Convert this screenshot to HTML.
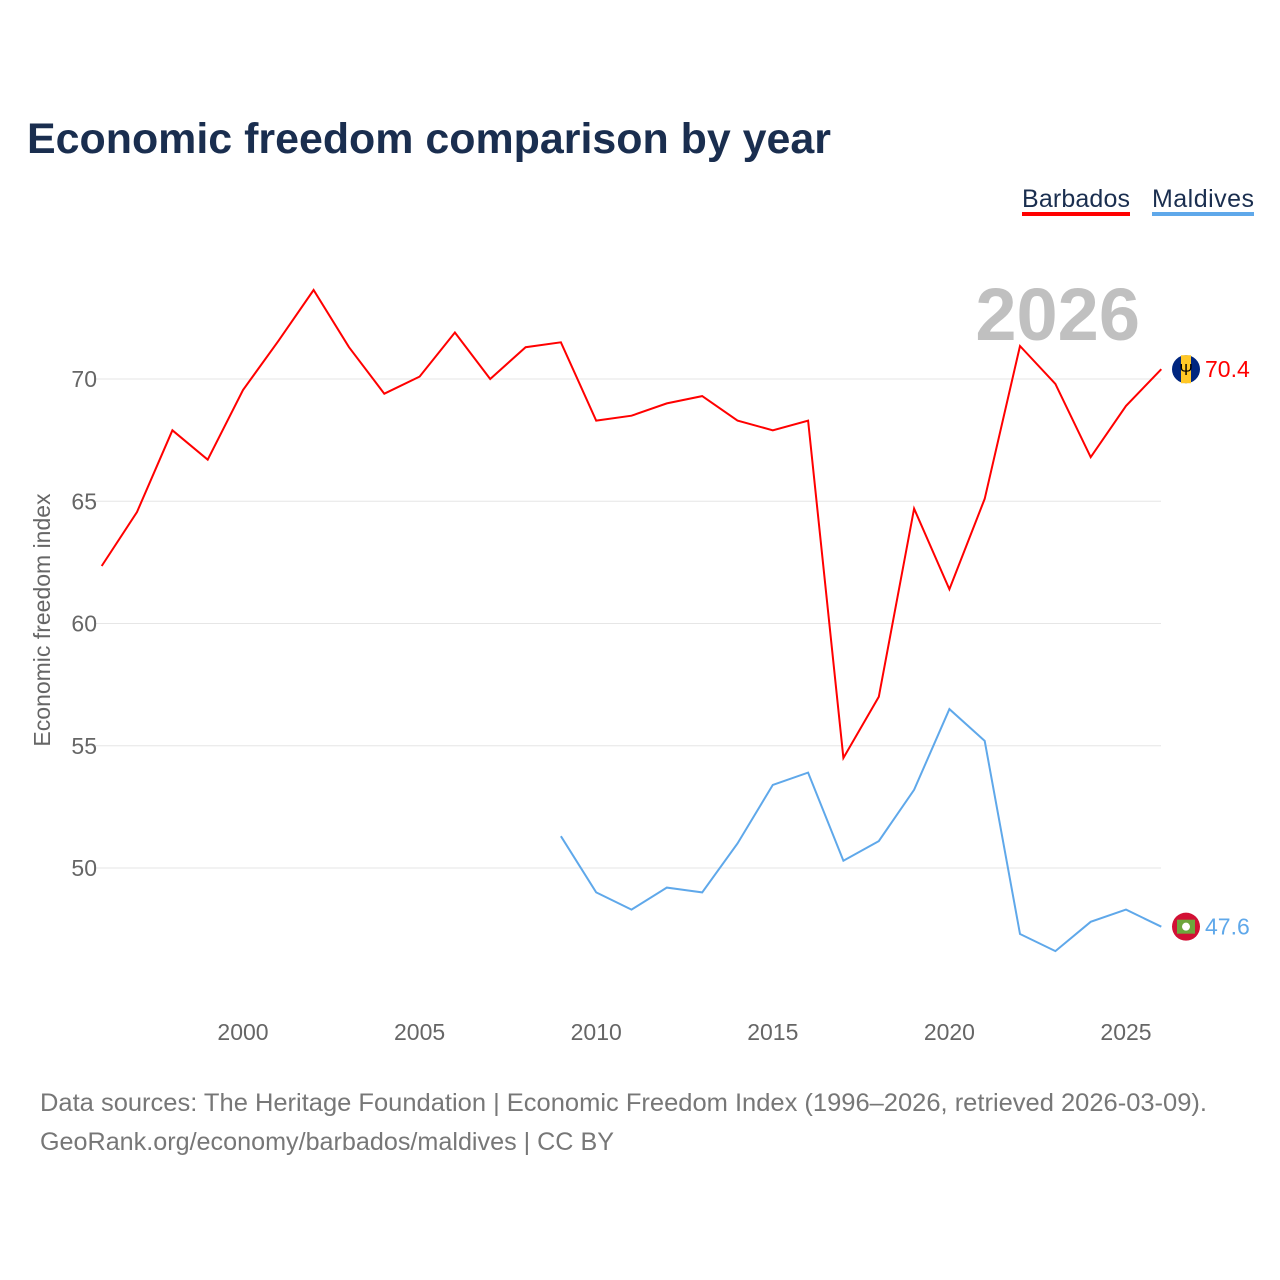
<!DOCTYPE html>
<html><head><meta charset="utf-8">
<style>
body{margin:0;background:#fff;font-family:"Liberation Sans",sans-serif;}
#wrap{position:relative;width:1280px;height:1280px;overflow:hidden;}
</style></head>
<body>
<div id="wrap">
<svg id="chart" width="1280" height="1280" xmlns="http://www.w3.org/2000/svg">
<text x="27" y="153" font-size="43" font-weight="bold" fill="#1a2e4f" textLength="804" lengthAdjust="spacingAndGlyphs" font-family="Liberation Sans, sans-serif">Economic freedom comparison by year</text>
<g>
<text x="1022" y="207" font-size="25" fill="#1a2e4f" textLength="108">Barbados</text>
<rect x="1022" y="212" width="108" height="4" fill="#ff0000"/>
<text x="1152" y="207" font-size="25" fill="#1a2e4f" textLength="102">Maldives</text>
<rect x="1152" y="212" width="102" height="4" fill="#5fa8ea"/>
</g>
<text x="1140" y="340" font-size="74" font-weight="bold" fill="#c0c0c0" text-anchor="end">2026</text>
<text transform="translate(50,620) rotate(-90)" font-size="23" fill="#666" text-anchor="middle">Economic freedom index</text>
<g id="grid"></g><g id="xticks"></g><g id="series"></g>
<text x="40" y="1111" font-size="25" fill="#777" textLength="1167" lengthAdjust="spacingAndGlyphs">Data sources: The Heritage Foundation | Economic Freedom Index (1996–2026, retrieved 2026-03-09).</text>
<text x="40" y="1150" font-size="25" fill="#777" textLength="574" lengthAdjust="spacingAndGlyphs">GeoRank.org/economy/barbados/maldives | CC BY</text>
</svg>
</div>
<script>
const yTicks=[50,55,60,65,70];
const xTicks=[2000,2005,2010,2015,2020,2025];
const barbYears=[1996,1997,1998,1999,2000,2001,2002,2003,2004,2005,2006,2007,2008,2009,2010,2011,2012,2013,2014,2015,2016,2017,2018,2019,2020,2021,2022,2023,2024,2025,2026];
const barbVals=[62.35,64.56,67.9,66.7,69.55,71.55,73.64,71.3,69.4,70.1,71.9,70.0,71.3,71.5,68.3,68.5,69.0,69.3,68.3,67.9,68.3,54.5,57.0,64.7,61.4,65.1,71.35,69.8,66.8,68.9,70.4];
const maldYears=[2009,2010,2011,2012,2013,2014,2015,2016,2017,2018,2019,2020,2021,2022,2023,2024,2025,2026];
const maldVals=[51.3,49.0,48.3,49.2,49.0,51.0,53.4,53.9,50.3,51.1,53.2,56.5,55.2,47.3,46.6,47.8,48.3,47.6];
const NS='http://www.w3.org/2000/svg';
const X=yr=>243+(yr-2000)*35.32;
const Y=v=>379+(70-v)*24.45;
function mk(t,a,p){const e=document.createElementNS(NS,t);for(const k in a)e.setAttribute(k,a[k]);p.appendChild(e);return e;}
const grid=document.getElementById('grid');
yTicks.forEach(v=>{
 const l=mk('line',{x1:95,x2:1161,y1:Y(v),y2:Y(v),stroke:'#e6e6e6','stroke-width':1},grid);
 
 
 const t=mk('text',{x:97,y:Y(v)+8,'font-size':23,fill:'#666','text-anchor':'end'},grid);
 t.textContent=v;
 
 
});
const xt=document.getElementById('xticks');
xTicks.forEach(yr=>{
 const t=mk('text',{x:X(yr),y:1040,'font-size':23,fill:'#666','text-anchor':'middle'},xt);
 t.textContent=yr;
 
 
});
const sg=document.getElementById('series');
function line(years,vals,color,name,flag){
 const d=years.map((y,i)=>(i?'L':'M')+X(y).toFixed(1)+','+Y(vals[i]).toFixed(1)).join(' ');
 const p=mk('path',{d:d,fill:'none',stroke:color,'stroke-width':2},sg);
 
 
 const last=vals[vals.length-1],ly=Y(last);
 const f=mk('g',{},sg);
 
 
 if(flag==='b'){
  mk('circle',{cx:1186,cy:ly,r:14,fill:'#00267f'},f);
  mk('rect',{x:1181,y:ly-14,width:10,height:28,fill:'#ffc726'},f);
  const s=mk('text',{x:1186,y:ly+6,'font-size':16,'text-anchor':'middle',fill:'#000'},f);s.textContent='Ψ';
 } else {
  mk('circle',{cx:1186,cy:ly,r:14,fill:'#d21034'},f);
  mk('rect',{x:1177,y:ly-7,width:18,height:14,fill:'#6ea63c'},f);
  mk('circle',{cx:1186,cy:ly,r:4,fill:'#fff'},f);
 }
 const t=mk('text',{x:1205,y:ly+8,'font-size':23,fill:color},sg);
 t.textContent=last.toFixed(1);
 
 
}
line(barbYears,barbVals,'#ff0000','barbados','b');
line(maldYears,maldVals,'#5fa8ea','maldives','m');
</script>
</body></html>
